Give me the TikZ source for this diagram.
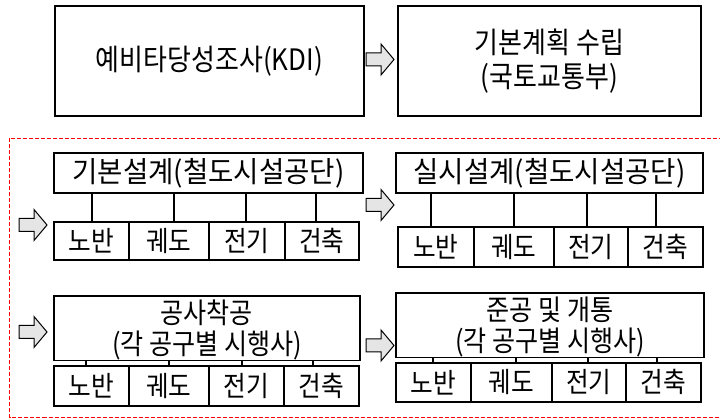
\documentclass[tikz,border=0pt]{standalone}
\usepackage{fontspec}
\setmainfont{Noto Sans CJK KR}[FakeStretch=0.88]
\newfontfamily\widefont{Noto Sans CJK KR}[FakeStretch=0.95]
\begin{document}
\begin{tikzpicture}[x=1pt,y=-1pt,
  box/.style={draw=black,line width=1.8pt,inner sep=0pt,anchor=north west,align=center},
  cell/.style={draw=black,line width=1.8pt,inner sep=0pt,anchor=north west,font=\fontsize{28}{30}\selectfont},
  conn/.style={draw=black,line width=1.6pt},
  frame/.style={draw=red,line width=1.1pt,dash pattern=on 4pt off 2pt},
  garrow/.pic={\draw[black,line width=1pt,fill=black!10,line join=miter]
     (0,-6.5) -- (15,-6.5) -- (15,-15.5) -- (28,0) -- (15,15.5) -- (15,6.5) -- (0,6.5) -- cycle;}
]
\useasboundingbox (0,0) rectangle (720,419);
% red dashed frame (right edge lies outside the picture)
\draw[frame] (9.5,138.5) rectangle (723,417.5);

% top boxes
\node[box,minimum width=309pt,minimum height=110pt,font=\fontsize{29.5}{34}\selectfont] (kdi) at (54,5) {예비타당성조사(KDI)};
\node[box,minimum width=303pt,minimum height=110pt,font=\fontsize{29.5}{34}\selectfont] (plan) at (397,5) {기본계획 수립\\(국토교통부)};
\pic at (366,59.5) {garrow};

% panel 1
\node[box,minimum width=309pt,minimum height=40pt,font=\widefont\fontsize{29}{30}\selectfont] (h1) at (53,152) {기본설계(철도시설공단)};
\node[cell,minimum width=75pt,minimum height=38pt] (c11) at (53,221) {노반};
\node[cell,minimum width=80pt,minimum height=38pt] (c12) at (128,221) {궤도};
\node[cell,minimum width=76pt,minimum height=38pt] (c13) at (208,221) {전기};
\node[cell,minimum width=74pt,minimum height=38pt] (c14) at (284,221) {건축};
\coordinate (x11) at (92,0); \coordinate (x12) at (174,0);
\coordinate (x13) at (246,0); \coordinate (x14) at (316,0);
\draw[conn] (x11 |- h1.south) -- (x11 |- c11.north);
\draw[conn] (x12 |- h1.south) -- (x12 |- c12.north);
\draw[conn] (x13 |- h1.south) -- (x13 |- c13.north);
\draw[conn] (x14 |- h1.south) -- (x14 |- c14.north);
\pic at (19,225) {garrow};

% panel 2
\node[box,minimum width=307pt,minimum height=40pt,font=\widefont\fontsize{29}{30}\selectfont] (h2) at (395,152) {실시설계(철도시설공단)};
\node[cell,minimum width=76pt,minimum height=40pt] (c21) at (397,226) {노반};
\node[cell,minimum width=80pt,minimum height=40pt] (c22) at (473,226) {궤도};
\node[cell,minimum width=74pt,minimum height=40pt] (c23) at (553,226) {전기};
\node[cell,minimum width=75pt,minimum height=40pt] (c24) at (627,226) {건축};
\coordinate (x21) at (431,0); \coordinate (x22) at (514,0);
\coordinate (x23) at (587,0); \coordinate (x24) at (656,0);
\draw[conn] (x21 |- h2.south) -- (x21 |- c21.north);
\draw[conn] (x22 |- h2.south) -- (x22 |- c22.north);
\draw[conn] (x23 |- h2.south) -- (x23 |- c23.north);
\draw[conn] (x24 |- h2.south) -- (x24 |- c24.north);
\pic at (366,205) {garrow};

% panel 3
\node[box,minimum width=306pt,minimum height=60pt,font=\fontsize{28.5}{31}\selectfont] (h3) at (53,295) {\rule{0pt}{28pt}공사착공\\(각 공구별 시행사)};
\node[cell,minimum width=75pt,minimum height=40pt] (c31) at (53,365) {노반};
\node[cell,minimum width=80pt,minimum height=40pt] (c32) at (128,365) {궤도};
\node[cell,minimum width=75pt,minimum height=40pt] (c33) at (208,365) {전기};
\node[cell,minimum width=75pt,minimum height=40pt] (c34) at (283,365) {건축};
\coordinate (x31) at (86,0); \coordinate (x32) at (169,0);
\coordinate (x33) at (242,0); \coordinate (x34) at (313,0);
\draw[conn] (x31 |- h3.south) -- (x31 |- c31.north);
\draw[conn] (x32 |- h3.south) -- (x32 |- c32.north);
\draw[conn] (x33 |- h3.south) -- (x33 |- c33.north);
\draw[conn] (x34 |- h3.south) -- (x34 |- c34.north);
\pic at (19,332) {garrow};

% panel 4
\node[box,minimum width=308pt,minimum height=59pt,font=\fontsize{28.5}{31}\selectfont] (h4) at (395,292) {\rule{0pt}{28pt}준공 및 개통\\(각 공구별 시행사)};
\node[cell,minimum width=75pt,minimum height=39pt] (c41) at (395,362) {노반};
\node[cell,minimum width=81pt,minimum height=39pt] (c42) at (470,362) {궤도};
\node[cell,minimum width=74pt,minimum height=39pt] (c43) at (551,362) {전기};
\node[cell,minimum width=75pt,minimum height=39pt] (c44) at (625,362) {건축};
\coordinate (x41) at (433,0); \coordinate (x42) at (516,0);
\coordinate (x43) at (588,0); \coordinate (x44) at (657,0);
\draw[conn] (x41 |- h4.south) -- (x41 |- c41.north);
\draw[conn] (x42 |- h4.south) -- (x42 |- c42.north);
\draw[conn] (x43 |- h4.south) -- (x43 |- c43.north);
\draw[conn] (x44 |- h4.south) -- (x44 |- c44.north);
\pic at (366,345.5) {garrow};
\end{tikzpicture}
\end{document}
